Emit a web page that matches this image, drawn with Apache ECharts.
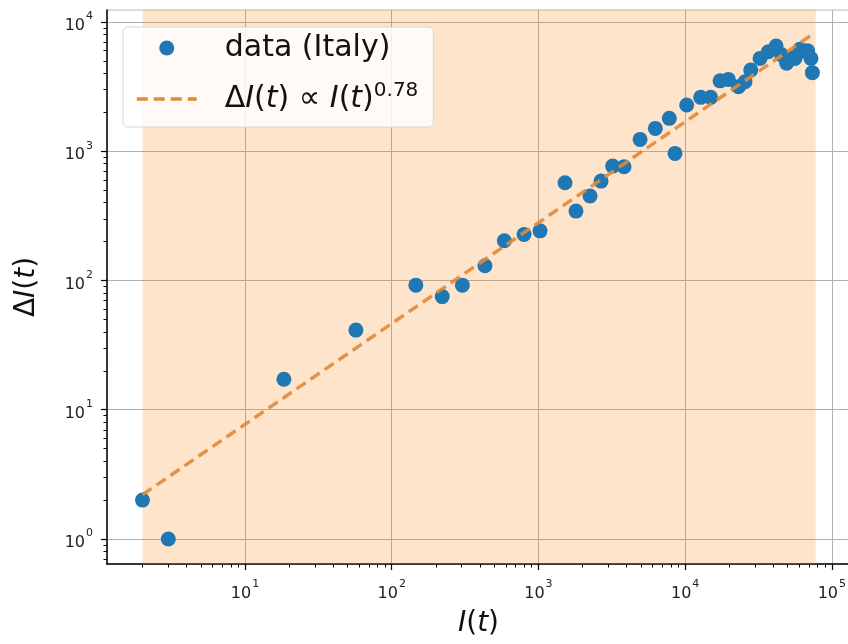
<!DOCTYPE html>
<html>
<head>
<meta charset="utf-8">
<script src="https://cdn.jsdelivr.net/npm/echarts@6/dist/echarts.min.js"></script>
<style>
  html, body { margin: 0; padding: 0; background: #fff; }
  #chart { width: 848px; height: 644px; }
</style>
</head>
<body>
<div id="chart"></div>
<script>
// I(t): active cases, ΔI(t): daily new cases
const activeCases = [2, 3, 18.4, 57, 146, 221, 303, 432, 586, 798,
  1025, 1518, 1803, 2248, 2673, 3206, 3830, 4930, 6265, 7800,
  8530, 10250, 12770, 14930, 17300, 19700, 23100, 25600, 28000, 32400,
  36900, 41700, 45500, 49200, 52700, 56100, 60500, 64800, 68400, 72100, 73700]
const newCases = [2, 1, 17.2, 41.3, 92, 75, 92, 130, 203, 227,
  242, 570, 344, 450, 587, 767, 757, 1233, 1500, 1794,
  961, 2275, 2608, 2608, 3500, 3590, 3150, 3440, 4240, 5220,
  5880, 6500, 5560, 4790, 5250, 5210, 6150, 5960, 5970, 5220, 4050]

// power-law fit end points ΔI ∝ I^0.78
const fitX = [2, 73700]
const fitY = [2.2, 8000]

// shaded span
const spanX = [2, 77700]

// axis ticks
const xMajor = [10, 100, 1000, 10000, 100000]
const yMajor = [1, 10, 100, 1000, 10000]
const minorSteps = [2, 3, 4, 5, 6, 7, 8, 9]
const xDecades = [1, 10, 100, 1000, 10000, 100000]
const yDecades = [0.1, 1, 10, 100, 1000, 10000]

const xMin = 1.146, xMax = 133000
const yMin = 0.641, yMax = 12360

const FONT = 'DejaVu Sans'
const FIT_COLOR = '#e08a3a'

const minorOf = (decades, lo, hi) => {
  const out = []
  decades.forEach(d => minorSteps.forEach(s => {
    const v = d * s
    if (v > lo && v < hi) out.push(v)
  }))
  return out
}

const powLabel = v => '{b|10}{s|' + Math.round(Math.log10(v)) + '}'

const tickRich = {
  b: { fontSize: 16, fontFamily: FONT, color: '#222', lineHeight: 24, verticalAlign: 'bottom' },
  s: { fontSize: 11, fontFamily: FONT, color: '#222', lineHeight: 24, verticalAlign: 'top', padding: [1, 0, 0, 1] }
}

const mathRich = size => ({
  r: { fontSize: size, fontFamily: FONT, color: '#111' },
  i: { fontSize: size, fontFamily: FONT, fontStyle: 'italic', color: '#111' }
})

const chart = echarts.init(document.getElementById('chart'))

const option = {
  animation: false,
  grid: {
    left: 107, right: -2, top: 10, bottom: 80,
    outerBoundsMode: 'none',
    containLabel: false,
    show: true, borderColor: '#b8b8b8', borderWidth: 1
  },
  legend: {
    orient: 'vertical',
    left: 123, top: 27,
    padding: [6, 15, 13, 12],
    itemWidth: 60, itemHeight: 15, itemGap: 18,
    backgroundColor: 'rgba(255,255,255,0.82)',
    borderColor: '#d6d6d6', borderWidth: 1, borderRadius: 5,
    data: [
      { name: 'data (Italy)', icon: 'circle' },
      {
        name: 'fit',
        itemStyle: { opacity: 0 },
        lineStyle: { width: 3.5, type: [11, 6], color: FIT_COLOR, opacity: 1 }
      }
    ],
    formatter: name => name === 'fit'
      ? '{gap|}{r|Δ}{i|I}{r|(}{i|t}{r|) ∝ }{i|I}{r|(}{i|t}{r|)}{s|0.78}'
      : '{gap|}{r|data (Italy)}',
    textStyle: {
      rich: {
        gap: { width: 23, lineHeight: 36 },
        r: { fontSize: 30, fontFamily: FONT, color: '#111', lineHeight: 36 },
        i: { fontSize: 30, fontFamily: FONT, fontStyle: 'italic', color: '#111', lineHeight: 36 },
        s: { fontSize: 20, fontFamily: FONT, color: '#111', lineHeight: 36, verticalAlign: 'top' }
      }
    }
  },
  xAxis: [
    {
      type: 'log', min: xMin, max: xMax, position: 'bottom',
      name: '{i|I}{r|(}{i|t}{r|)}',
      nameLocation: 'middle', nameGap: 46,
      nameTextStyle: { rich: mathRich(28) },
      axisLine: { lineStyle: { color: '#000', width: 1.5 } },
      axisTick: { customValues: xMajor, length: 6, lineStyle: { color: '#000', width: 1.2 } },
      axisLabel: { customValues: xMajor, margin: 14, formatter: powLabel, rich: tickRich },
      splitLine: { show: true, lineStyle: { color: '#b0b0b0', width: 1 } }
    },
    {
      type: 'log', min: xMin, max: xMax, position: 'bottom', gridIndex: 0,
      axisLine: { show: false },
      axisTick: { customValues: minorOf(xDecades, xMin, xMax), length: 3.5, lineStyle: { color: '#000', width: 1 } },
      axisLabel: { show: false },
      splitLine: { show: false }
    }
  ],
  yAxis: [
    {
      type: 'log', min: yMin, max: yMax, position: 'left',
      name: '{r|Δ}{i|I}{r|(}{i|t}{r|)}',
      nameLocation: 'middle', nameGap: 66, nameRotate: 90,
      nameTextStyle: { rich: mathRich(28) },
      axisLine: { show: true, lineStyle: { color: '#000', width: 1.5 } },
      axisTick: { show: true, customValues: yMajor, length: 6, lineStyle: { color: '#000', width: 1.2 } },
      axisLabel: { customValues: yMajor, margin: 14, formatter: powLabel, rich: tickRich },
      splitLine: { show: true, lineStyle: { color: '#b0b0b0', width: 1 } }
    },
    {
      type: 'log', min: yMin, max: yMax, position: 'left', gridIndex: 0,
      axisLine: { show: false },
      axisTick: { show: true, customValues: minorOf(yDecades, yMin, yMax), length: 3.5, lineStyle: { color: '#000', width: 1 } },
      axisLabel: { show: false },
      splitLine: { show: false }
    }
  ],
  series: [
    {
      name: 'span',
      type: 'line',
      data: [],
      z: 1,
      silent: true,
      markArea: {
        silent: true,
        itemStyle: { color: 'rgba(255,127,14,0.21)' },
        data: [[{ xAxis: spanX[0] }, { xAxis: spanX[1] }]]
      }
    },
    {
      name: 'data (Italy)',
      type: 'scatter',
      symbol: 'circle',
      symbolSize: 15,
      z: 3,
      itemStyle: { color: '#1f77b4', opacity: 1 },
      data: activeCases.map((v, i) => [v, newCases[i]])
    },
    {
      name: 'fit',
      type: 'line',
      symbol: 'none',
      z: 4,
      lineStyle: { color: FIT_COLOR, width: 3.5, type: [11, 6], opacity: 0.9 },
      itemStyle: { color: FIT_COLOR },
      data: fitX.map((v, i) => [v, fitY[i]])
    }
  ]
}

chart.setOption(option)
</script>
</body>
</html>
